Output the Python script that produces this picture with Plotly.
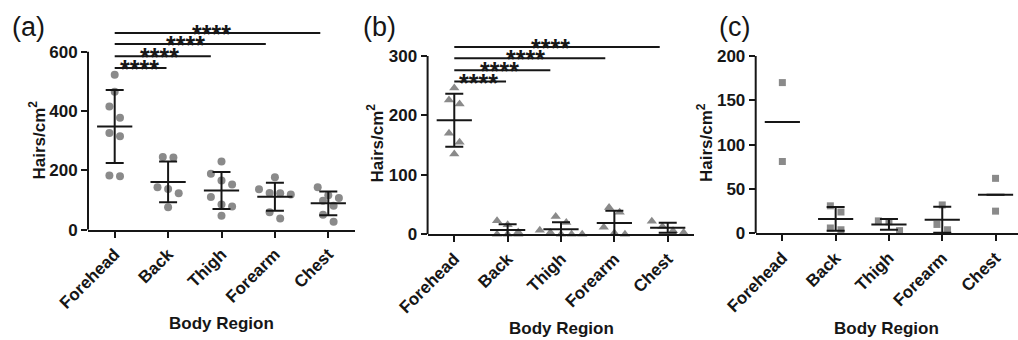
import numpy as np
import plotly.graph_objects as go

W, H = 1018, 340

# ---------------- data ----------------
categories = ["Forehead", "Back", "Thigh", "Forearm", "Chest"]

# (a) circles
a_forehead = [522, 465, 415, 377, 326, 315, 183, 180]
a_back = [245, 243, 143, 137, 123, 76]
a_thigh = [230, 189, 166, 152, 110, 85, 78, 47]
a_forearm = [177, 136, 124, 123, 119, 59, 38]
a_chest = [143, 116, 107, 98, 81, 50, 27]

# (b) triangles
b_forehead = [246, 226, 219, 170, 155, 135]
b_back = [23, 16, 4, 0, 0, 0]
b_thigh = [30, 20, 7, 3, 0, 0, 0]
b_forearm = [45, 37, 12, 2, 0]
b_chest = [22, 13, 6, 3]

# (c) squares
c_forehead = [170, 81]
c_back = [31, 24, 6, 4]
c_thigh = [14, 13, 3]
c_forearm = [32, 10, 4]
c_chest = [62, 25]

yticks_a = [0, 200, 400, 600]
yticks_b = [0, 100, 200, 300]
yticks_c = [0, 50, 100, 150, 200]

sig_label = "****"
sig_targets = [1, 2, 3, 4]          # Forehead vs Back/Thigh/Forearm/Chest
sig_levels_a = [545, 585, 626, 663]
sig_levels_b = [257, 276, 296, 315]

panel_letters = ["(a)", "(b)", "(c)"]
x_title = "Body Region"
y_title = "Hairs/cm<sup>2</sup>"

# ---------------- style / geometry ----------------
FONT = "Liberation Sans, Arial, sans-serif"
GRAY = "#8a8a8a"
INK = "#161616"
bar_trim = [0.03, 0.2, 0.17, 0.15]
star_frac = 0.47

panels = [
    dict(groups=[a_forehead, a_back, a_thigh, a_forearm, a_chest], symbol="circle", msize=8,
         x0=88, x1=355, xr=[-0.5, 4.5], ybot=229.7, ytop_px=25.0, yr=[0, 690], axis_max=600,
         ticks=yticks_a, sig=sig_levels_a, letter_x=10, ytitle_x=37.5, ytitle_y=140, xtitle_y=323),
    dict(groups=[b_forehead, b_back, b_thigh, b_forearm, b_chest], symbol="triangle-up", msize=9,
         x0=427.6, x1=694.4, xr=[-0.5, 4.5], ybot=234.3, ytop_px=32.2, yr=[0, 340], axis_max=300,
         ticks=yticks_b, sig=sig_levels_b, letter_x=361, ytitle_x=375.5, ytitle_y=143, xtitle_y=328),
    dict(groups=[c_forehead, c_back, c_thigh, c_forearm, c_chest], symbol="square", msize=7,
         x0=755.7, x1=1018, xr=[-0.5, -0.5 + (1018 - 755.7) / 53.3], ybot=233.3, ytop_px=56.0, yr=[0, 200], axis_max=200,
         ticks=yticks_c, sig=None, letter_x=717, ytitle_x=705, ytitle_y=143, xtitle_y=328),
]


def swarm(vals, ppu, ppx, row_thresh=11.5, step_px=10.6):
    vals = np.asarray(vals, dtype=float)
    order = np.argsort(-vals, kind="stable")
    rows, cur, start = [], [], None
    for i in order:
        ypx = vals[i] * ppu
        if cur and start - ypx < row_thresh:
            cur.append(i)
        else:
            if cur:
                rows.append(cur)
            cur, start = [i], ypx
    if cur:
        rows.append(cur)
    offs = np.zeros(len(vals))
    for r in rows:
        n = len(r)
        for k, i in enumerate(r):
            offs[i] = (k - (n - 1) / 2) * step_px
    return offs / ppx


fig = go.Figure()
shapes, annotations = [], []
layout_axes = {}

for p_i, p in enumerate(panels):
    sfx = "" if p_i == 0 else str(p_i + 1)
    xa, ya = "x" + sfx, "y" + sfx
    ppu = (p["ybot"] - p["ytop_px"]) / (p["yr"][1] - p["yr"][0])
    ppx = (p["x1"] - p["x0"]) / (p["xr"][1] - p["xr"][0])

    xs, ys, mx, my, sd = [], [], [], [], []
    for g_i, g in enumerate(p["groups"]):
        offs = swarm(g, ppu, ppx)
        xs += list(g_i + offs)
        ys += list(g)
        mx.append(g_i)
        my.append(float(np.mean(g)))
        sd.append(float(np.std(g, ddof=1)) if len(g) >= 3 else 0.0)

    fig.add_trace(go.Scatter(
        x=xs, y=ys, mode="markers", xaxis=xa, yaxis=ya, cliponaxis=False,
        marker=dict(symbol=p["symbol"], size=p["msize"], color=GRAY, line=dict(width=0)),
        showlegend=False, hoverinfo="skip"))
    fig.add_trace(go.Scatter(
        x=mx, y=my, mode="markers", xaxis=xa, yaxis=ya,
        marker=dict(size=1, color="rgba(0,0,0,0)"),
        error_y=dict(type="data", array=sd, visible=True, thickness=2, width=9, color=INK),
        error_x=dict(type="data", array=[0.33] * len(mx), visible=True, thickness=2, width=0, color=INK),
        showlegend=False, hoverinfo="skip"))

    layout_axes["xaxis" + sfx] = dict(
        domain=[p["x0"] / W, min(p["x1"] / W, 1.0)], range=p["xr"], anchor=ya, automargin=False,
        tickmode="array", tickvals=list(range(len(categories))), ticktext=categories,
        tickangle=-45, ticks="outside", ticklen=6, tickwidth=2, tickcolor=INK,
        showline=True, linewidth=2, linecolor=INK, showgrid=False, zeroline=False,
        tickfont=dict(family=FONT, size=17, color=INK, weight="bold"), fixedrange=True)
    layout_axes["yaxis" + sfx] = dict(
        domain=[(H - p["ybot"]) / H, (H - p["ytop_px"]) / H], range=p["yr"], anchor=xa, automargin=False,
        tickmode="array", tickvals=p["ticks"], ticks="outside", ticklen=6, tickwidth=2, tickcolor=INK,
        showline=False, showgrid=False, zeroline=False,
        tickfont=dict(family=FONT, size=17, color=INK, weight="bold"), fixedrange=True)

    # y axis line only up to the last tick
    shapes.append(dict(type="line", xref=xa + " domain", yref=ya, x0=0, x1=0,
                       y0=0, y1=p["axis_max"], line=dict(color=INK, width=2)))

    # significance bars
    if p["sig"] is not None:
        for t, lvl, trim in zip(sig_targets, p["sig"], bar_trim):
            xe = t - trim
            shapes.append(dict(type="line", xref=xa, yref=ya, x0=0, x1=xe, y0=lvl, y1=lvl,
                               line=dict(color=INK, width=2)))
            annotations.append(dict(x=xe * star_frac, y=lvl, xref=xa, yref=ya, text=sig_label,
                                    showarrow=False, xanchor="center", yanchor="bottom", yshift=-17,
                                    font=dict(family=FONT, size=25, color=INK, weight="bold")))

    annotations.append(dict(x=p["letter_x"] / W, y=1 - 10 / H, xref="paper", yref="paper",
                            text=panel_letters[p_i], showarrow=False, xanchor="left", yanchor="top",
                            font=dict(family=FONT, size=27, color=INK)))
    annotations.append(dict(x=0.5, y=1 - p["xtitle_y"] / H, xref=xa + " domain", yref="paper",
                            text=x_title, showarrow=False, xanchor="center", yanchor="middle",
                            font=dict(family=FONT, size=17, color=INK, weight="bold")))
    annotations.append(dict(x=p["ytitle_x"] / W, y=1 - p["ytitle_y"] / H, xref="paper", yref="paper",
                            text=y_title, showarrow=False, textangle=-90, xanchor="center", yanchor="middle",
                            font=dict(family=FONT, size=17, color=INK, weight="bold")))

fig.update_layout(
    template="none",
    width=W, height=H, margin=dict(l=0, r=0, t=0, b=0, autoexpand=False),
    paper_bgcolor="white", plot_bgcolor="white", showlegend=False,
    shapes=shapes, annotations=annotations, **layout_axes)

fig.write_html("out.html", config={"displayModeBar": False},
               post_script="document.body.style.margin='0';document.body.style.overflow='hidden';")
